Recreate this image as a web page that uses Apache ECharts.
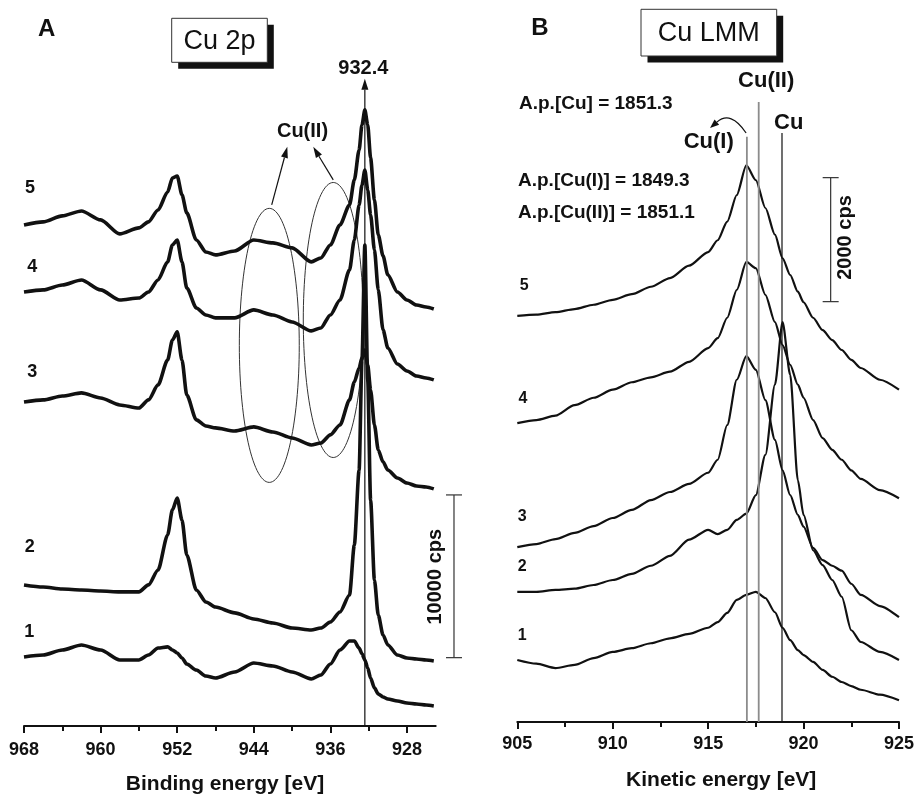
<!DOCTYPE html>
<html><head><meta charset="utf-8">
<script src="https://cdn.jsdelivr.net/npm/echarts@6/dist/echarts.min.js"></script>
<style>html,body{margin:0;padding:0;background:#fff}#c{width:917px;height:796px}</style>
</head><body><div id="c"></div><script>
// ---------- Panel A: Cu 2p (binding energy, eV) ----------
const energyA = [968,966,964,962,960,958,956,955,954,953,952.5,952,951.5,951,950,949,948,946,944,942,940,938,937,936,935,934,933.5,933,932.7,932.4,932.1,931.8,931.4,931,930.5,930,929,928,927,926,925.2];
const a5 = [30790,30980,31350,31650,31100,30240,30610,30980,31710,32820,33680,33800,32640,31530,29870,29130,28950,29190,29870,29690,29380,28520,28760,29560,30790,32020,33560,35400,36940,37860,36940,34910,32330,30180,28890,27720,26670,26180,25870,25750,25630];
const a4 = [26670,26800,27100,27410,26800,26180,26300,26670,27410,28520,29560,29870,28520,26920,25690,25260,25080,25080,25570,25260,24830,24280,24460,25260,26180,28030,29870,32020,33250,34170,32940,31410,29260,26800,24340,23230,22250,21820,21510,21390,21270];
const a3 = [19910,20040,20280,20470,20160,19730,19540,20040,20960,22490,23720,24220,22490,20340,18810,18440,18320,18130,18380,18070,17700,17270,17390,17890,18500,20040,21140,22000,22620,23110,22190,20650,18500,16960,16230,15730,15240,14930,14750,14690,14570];
const a2 = [8670,8540,8420,8360,8300,8240,8240,8670,9590,11740,13280,14010,12660,10510,8360,7620,7310,6950,6580,6330,6020,5900,6020,6390,7010,8050,11120,15730,22490,29560,21270,13890,8970,6820,5590,4980,4360,4180,4120,4060,4000];
const a1 = [4240,4360,4670,4980,4670,4060,4060,4360,4790,4860,4670,4490,4180,3810,3440,3070,2950,3320,3870,3690,3320,2890,3130,3810,4670,5220,5220,4790,4430,4060,3560,2950,2340,1970,1780,1660,1540,1410,1350,1290,1230];
const ticksA = [928,936,944,952,960,968];
const minorTicksA = [932,940,948,956,964];
// annotations A (eV, cps)
const ellipsesA = [[942.38,23390,3.13,8420],[935.70,24950,3.13,8450]]; // centre x, centre y, radius x, radius y
const arrowsA = [[932.4,0,932.4,39770],[942.13,32020,940.50,35590],[935.70,33560,937.79,35590]];
const scaleBarA = [[923.09,4200,14200]];

// ---------- Panel B: Cu LMM (kinetic energy, eV) ----------
const energyB = [905,906,907,908,909,910,911,912,913,914,915,915.5,916,916.5,917,917.5,918,918.5,918.9,919.3,919.7,920,920.5,921,921.5,922,922.5,923,924,925];
const b5 = [6550,6570,6610,6660,6730,6810,6900,7020,7160,7360,7580,7770,8070,8500,8980,8740,8290,7860,7480,7210,6940,6770,6520,6320,6160,6000,5840,5710,5520,5360];
const b4 = [4820,4870,4940,5110,5230,5360,5480,5560,5650,5810,6030,6190,6520,6970,7420,7320,6890,6450,6080,5760,5440,5230,4870,4580,4390,4230,4060,3920,3740,3610];
const b3 = [2820,2870,2950,3050,3160,3290,3420,3580,3710,3840,4020,4230,4790,5520,5900,5680,5190,4550,4060,3660,3340,3150,2810,2610,2520,2440,2230,2050,1870,1690];
const b2 = [2100,2100,2130,2150,2210,2290,2390,2520,2680,2940,3100,3030,3100,3260,3360,3660,4310,5440,6450,5600,3900,3340,2770,2530,2290,2020,1480,1290,1130,1000];
const b1 = [1000,940,870,920,1030,1130,1190,1270,1350,1420,1520,1610,1760,1970,2050,2100,2000,1770,1520,1320,1160,1080,970,840,730,645,580,520,440,350];
const refLinesB = [[917.03,9440],[917.65,10000],[918.87,9500]]; // Cu(I), Cu(II), Cu
const refColorsB = ['#8c8c8c','#8c8c8c','#111'];
const curvedArrowB = [[916.99,9500,916.19,9870,915.10,9580]];
const scaleBarB = [[921.42,6780,8780]];

const FONT = '"Liberation Sans", Arial, Helvetica, sans-serif';
const INK = '#111';
const pairs = (xs, ys) => xs.map((x, i) => [x, ys[i]]);

function spec(data, xi, w) {
  return {type:'line', xAxisIndex:xi, yAxisIndex:xi===2?1:0, data, symbol:'none', showSymbol:false,
    smooth:0.25, smoothMonotone:'x', lineStyle:{color:INK, width:w, join:'round'}, silent:true, animation:false, z:3};
}

const ellipseSeries = {
  type:'custom', xAxisIndex:0, yAxisIndex:0, data:ellipsesA, clip:false, silent:true, z:2,
  renderItem(p, api) {
    const cx = api.value(0), cy = api.value(1);
    const c = api.coord([cx, cy]);
    const rx = Math.abs(api.coord([cx + api.value(2), cy])[0] - c[0]);
    const ry = Math.abs(api.coord([cx, cy + api.value(3)])[1] - c[1]);
    const pts = [];
    for (let k = 0; k <= 120; k++) { const t = k / 120 * 2 * Math.PI; pts.push([c[0] + rx * Math.cos(t), c[1] + ry * Math.sin(t)]); }
    return {type:'polyline', shape:{points:pts}, style:{stroke:'#333', lineWidth:1, fill:null}};
  }
};

function arrowHead(tip, ang, L, W) {
  const b = [tip[0] - L * Math.cos(ang), tip[1] - L * Math.sin(ang)];
  const nx = -Math.sin(ang), ny = Math.cos(ang);
  return {b, pts:[tip, [b[0] + W * nx, b[1] + W * ny], [b[0] - W * nx, b[1] - W * ny]]};
}

const arrowSeries = {
  type:'custom', xAxisIndex:0, yAxisIndex:0, data:arrowsA, clip:false, silent:true, z:4,
  renderItem(p, api) {
    const p1 = api.coord([api.value(0), api.value(1)]);
    const p2 = api.coord([api.value(2), api.value(3)]);
    const ang = Math.atan2(p2[1] - p1[1], p2[0] - p1[0]);
    const h = arrowHead(p2, ang, 11, 3.5);
    return {type:'group', children:[
      {type:'line', shape:{x1:p1[0], y1:p1[1], x2:h.b[0], y2:h.b[1]}, style:{stroke:INK, lineWidth:1.2}},
      {type:'polygon', shape:{points:h.pts}, style:{fill:INK}}
    ]};
  }
};

function scaleBar(data, xi, yi) {
  return {type:'custom', xAxisIndex:xi, yAxisIndex:yi, data, clip:false, silent:true, z:4,
    renderItem(p, api) {
      const a = api.coord([api.value(0), api.value(1)]);
      const b = api.coord([api.value(0), api.value(2)]);
      const hw = 8;
      return {type:'group', children:[
        {type:'line', shape:{x1:a[0], y1:a[1], x2:b[0], y2:b[1]}, style:{stroke:'#333', lineWidth:1.2}},
        {type:'line', shape:{x1:a[0]-hw, y1:a[1], x2:a[0]+hw, y2:a[1]}, style:{stroke:'#333', lineWidth:1.2}},
        {type:'line', shape:{x1:b[0]-hw, y1:b[1], x2:b[0]+hw, y2:b[1]}, style:{stroke:'#333', lineWidth:1.2}}
      ]};
    }};
}

const refSeries = {
  type:'custom', xAxisIndex:2, yAxisIndex:1, data:refLinesB, clip:false, silent:true, z:4,
  renderItem(p, api) {
    const a = api.coord([api.value(0), 0]);
    const b = api.coord([api.value(0), api.value(1)]);
    const gray = p.dataIndex < 2;
    return {type:'line', shape:{x1:a[0], y1:a[1], x2:b[0], y2:b[1]},
      style:{stroke:refColorsB[p.dataIndex], lineWidth:gray ? 1.8 : 1.2}};
  }
};

const curvedSeries = {
  type:'custom', xAxisIndex:2, yAxisIndex:1, data:curvedArrowB, clip:false, silent:true, z:4,
  renderItem(p, api) {
    const s = api.coord([api.value(0), api.value(1)]);
    const c = api.coord([api.value(2), api.value(3)]);
    const e = api.coord([api.value(4), api.value(5)]);
    const ang = Math.atan2(e[1] - c[1], e[0] - c[0]);
    const h = arrowHead(e, ang, 9, 3.5);
    return {type:'group', children:[
      {type:'bezierCurve', shape:{x1:s[0], y1:s[1], cpx1:c[0], cpy1:c[1], x2:h.b[0], y2:h.b[1]}, style:{stroke:INK, lineWidth:1.2, fill:null}},
      {type:'polygon', shape:{points:h.pts}, style:{fill:INK}}
    ]};
  }
};

function txt(x, y, t, size, opts) {
  return Object.assign({type:'text', x, y, z:20, style:Object.assign({text:t, fill:INK,
    font:(opts && opts.normal ? '' : 'bold ') + size + 'px ' + FONT,
    textAlign:'center', textVerticalAlign:'middle'}, (opts && opts.style) || {})}, (opts && opts.el) || {});
}
function box(x, y, w, h, label) {
  return [
    {type:'rect', shape:{x:x+6.5, y:y+6.5, width:w, height:h}, style:{fill:'#111'}, z:18},
    {type:'rect', shape:{x, y, width:w, height:h}, style:{fill:'#fff', stroke:'#333', lineWidth:1}, z:19},
    txt(x + w / 2, y + h / 2 + 1, label, 27, {normal:true})
  ];
}

const axisCommon = {
  axisLine:{show:true, onZero:false, lineStyle:{color:INK, width:2}},
  splitLine:{show:false},
};

const option = {
  backgroundColor:'#fff',
  animation:false,
  grid:[
    {left:24, right:481.3, top:10, bottom:70},
    {left:517.3, right:16, top:40, bottom:74}
  ],
  xAxis:[
    Object.assign({type:'value', gridIndex:0, min:925, max:968, inverse:true, position:'bottom',
      axisTick:{show:true, customValues:ticksA, length:7, lineStyle:{color:INK, width:2}},
      axisLabel:{customValues:ticksA, margin:15, color:INK, fontSize:18, fontWeight:'bold', fontFamily:FONT}}, axisCommon),
    {type:'value', gridIndex:0, min:925, max:968, inverse:true, position:'bottom',
      axisLine:{show:false}, splitLine:{show:false},
      axisTick:{show:true, customValues:minorTicksA, length:5, lineStyle:{color:INK, width:2}},
      axisLabel:{show:false}},
    Object.assign({type:'value', gridIndex:1, min:905, max:925, interval:5, position:'bottom',
      axisTick:{show:true, length:7, lineStyle:{color:INK, width:2}},
      minorTick:{show:true, splitNumber:2, length:5, lineStyle:{color:INK, width:2}},
      axisLabel:{margin:13, color:INK, fontSize:18, fontWeight:'bold', fontFamily:FONT}}, axisCommon)
  ],
  yAxis:[
    {type:'value', gridIndex:0, min:0, max:44000, show:false},
    {type:'value', gridIndex:1, min:0, max:11000, show:false}
  ],
  series:[
    spec(pairs(energyA, a5), 0, 3.6), spec(pairs(energyA, a4), 0, 3.6), spec(pairs(energyA, a3), 0, 3.6),
    spec(pairs(energyA, a2), 0, 3.6), spec(pairs(energyA, a1), 0, 3.6),
    ellipseSeries, arrowSeries, scaleBar(scaleBarA, 0, 0),
    spec(pairs(energyB, b5), 2, 2.2), spec(pairs(energyB, b4), 2, 2.2), spec(pairs(energyB, b3), 2, 2.2),
    spec(pairs(energyB, b2), 2, 2.2), spec(pairs(energyB, b1), 2, 2.2),
    refSeries, curvedSeries, scaleBar(scaleBarB, 2, 1)
  ],
  graphic:[
    txt(46.7, 29, 'A', 24),
    txt(540, 28, 'B', 24),
    ...box(171.7, 18.3, 95.6, 44, 'Cu 2p'),
    ...box(641, 9.3, 135.7, 46.7, 'Cu LMM'),
    txt(363.3, 68, '932.4', 20),
    txt(302.5, 131.7, 'Cu(II)', 20),
    txt(30, 187.7, '5', 18), txt(32.3, 267, '4', 18), txt(32.3, 372, '3', 18),
    txt(29.7, 546.7, '2', 18), txt(29.2, 632.5, '1', 18),
    txt(435, 576.7, '10000 cps', 20, {el:{rotation:Math.PI/2}}),
    txt(225, 784, 'Binding energy [eV]', 21),
    txt(519, 104, 'A.p.[Cu] = 1851.3', 19, {style:{textAlign:'left'}}),
    txt(518, 181, 'A.p.[Cu(I)] = 1849.3', 19, {style:{textAlign:'left'}}),
    txt(518, 213, 'A.p.[Cu(II)] = 1851.1', 19, {style:{textAlign:'left'}}),
    txt(766.2, 81, 'Cu(II)', 22), txt(788.7, 123.3, 'Cu', 22), txt(708.7, 141.7, 'Cu(I)', 22),
    txt(524.3, 285.8, '5', 16), txt(523, 398.7, '4', 16), txt(522.2, 516.7, '3', 16),
    txt(522.2, 566.7, '2', 16), txt(522.2, 635.8, '1', 16),
    txt(845.8, 237.5, '2000 cps', 20, {el:{rotation:Math.PI/2}}),
    txt(721.2, 780, 'Kinetic energy [eV]', 21)
  ]
};
const chart = echarts.init(document.getElementById('c'), null, {renderer:'canvas'});
chart.setOption(option);
</script></body></html>
